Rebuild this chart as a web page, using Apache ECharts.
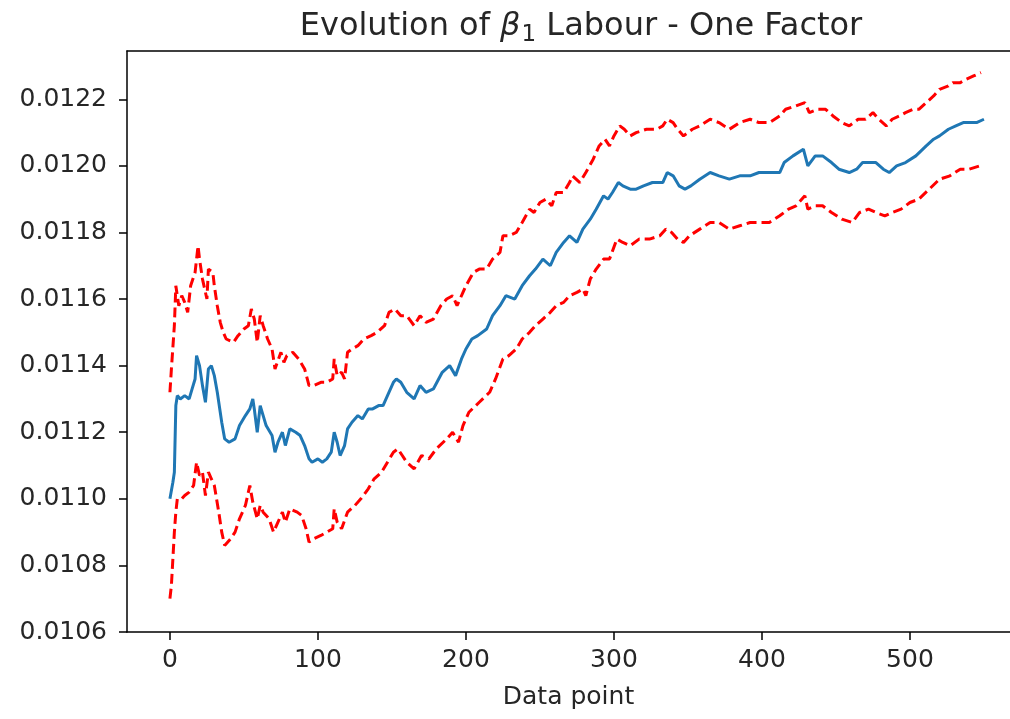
<!DOCTYPE html>
<html>
<head>
<meta charset="utf-8">
<script src="https://cdn.jsdelivr.net/npm/echarts@6/dist/echarts.min.js"></script>
<style>html,body{margin:0;padding:0;background:#fff}#c{width:1010px;height:719px}</style>
</head>
<body>
<div id="c"></div>
<script>
const xTicks = [0, 100, 200, 300, 400, 500];
const yTicks = [0.0106, 0.0108, 0.0110, 0.0112, 0.0114, 0.0116, 0.0118, 0.0120, 0.0122];

const meanLine = [[0,0.01100],[2,0.01105],[3,0.01108],[4,0.01128],[5,0.01131],[7,0.01130],[10,0.01131],[13,0.01130],[15,0.01133],[17,0.01136],[18,0.01143],[20,0.01140],[22,0.01134],[24,0.01129],[26,0.01139],[28,0.01140],[30,0.01137],[32,0.01132],[35,0.01123],[37,0.01118],[40,0.01117],[44,0.01118],[47,0.01122],[51,0.01125],[54,0.01127],[56,0.01130],[57,0.01127],[59,0.01120],[61,0.01128],[63,0.01125],[65,0.01122],[69,0.01119],[71,0.01114],[73,0.01117],[76,0.01120],[78,0.01116],[81,0.01121],[85,0.01120],[88,0.01119],[91,0.01116],[94,0.01112],[96,0.01111],[100,0.01112],[103,0.01111],[106,0.01112],[109,0.01114],[111,0.01120],[113,0.01117],[115,0.01113],[118,0.01116],[120,0.01121],[123,0.01123],[127,0.01125],[130,0.01124],[134,0.01127],[137,0.01127],[141,0.01128],[144,0.01128],[147,0.01131],[151,0.01135],[153,0.01136],[156,0.01135],[160,0.01132],[165,0.01130],[169,0.01134],[173,0.01132],[178,0.01133],[184,0.01138],[189,0.01140],[193,0.01137],[197,0.01142],[200,0.01145],[204,0.01148],[208,0.01149],[214,0.01151],[218,0.01155],[223,0.01158],[227,0.01161],[233,0.01160],[238,0.01164],[243,0.01167],[247,0.01169],[252,0.01172],[257,0.01170],[261,0.01174],[266,0.01177],[270,0.01179],[275,0.01177],[279,0.01181],[284,0.01184],[288,0.01187],[293,0.01191],[296,0.01190],[299,0.01192],[303,0.01195],[306,0.01194],[311,0.01193],[315,0.01193],[320,0.01194],[326,0.01195],[333,0.01195],[336,0.01198],[340,0.01197],[344,0.01194],[348,0.01193],[352,0.01194],[358,0.01196],[365,0.01198],[371,0.01197],[378,0.01196],[385,0.01197],[392,0.01197],[398,0.01198],[405,0.01198],[412,0.01198],[415,0.01201],[421,0.01203],[428,0.01205],[431,0.01200],[436,0.01203],[441,0.01203],[447,0.01201],[452,0.01199],[459,0.01198],[464,0.01199],[468,0.01201],[473,0.01201],[477,0.01201],[482,0.01199],[486,0.01198],[491,0.01200],[497,0.01201],[504,0.01203],[511,0.01206],[516,0.01208],[520,0.01209],[526,0.01211],[531,0.01212],[536,0.01213],[540,0.01213],[545,0.01213],[550,0.01214]];

const upperBand = [[0,0.01132],[1,0.01139],[3,0.01152],[4,0.01164],[6,0.01158],[8,0.01161],[10,0.01159],[12,0.01156],[14,0.01164],[17,0.01168],[19,0.01176],[20,0.01172],[22,0.01166],[25,0.01160],[26,0.01169],[29,0.01168],[30,0.01164],[32,0.01158],[34,0.01153],[36,0.01150],[38,0.01148],[43,0.01147],[46,0.01149],[50,0.01151],[53,0.01152],[55,0.01157],[57,0.01154],[59,0.01147],[61,0.01155],[63,0.01152],[66,0.01148],[69,0.01145],[71,0.01139],[75,0.01144],[77,0.01141],[79,0.01143],[83,0.01144],[87,0.01142],[91,0.01139],[94,0.01134],[97,0.01134],[102,0.01135],[106,0.01135],[110,0.01136],[111,0.01142],[113,0.01137],[116,0.01138],[118,0.01136],[120,0.01144],[123,0.01145],[127,0.01146],[131,0.01148],[136,0.01149],[140,0.01150],[145,0.01152],[148,0.01156],[152,0.01157],[156,0.01155],[160,0.01155],[165,0.01152],[169,0.01155],[173,0.01153],[178,0.01154],[183,0.01158],[187,0.01160],[191,0.01161],[194,0.01158],[198,0.01162],[200,0.01164],[205,0.01168],[209,0.01169],[214,0.01169],[218,0.01172],[223,0.01174],[225,0.01179],[229,0.01179],[234,0.01180],[238,0.01183],[243,0.01187],[246,0.01186],[250,0.01189],[254,0.01190],[258,0.01188],[261,0.01192],[266,0.01192],[270,0.01195],[272,0.01197],[277,0.01195],[281,0.01198],[286,0.01202],[290,0.01206],[294,0.01208],[297,0.01206],[300,0.01209],[304,0.01212],[307,0.01211],[311,0.01209],[315,0.01210],[322,0.01211],[329,0.01211],[333,0.01212],[336,0.01214],[340,0.01213],[343,0.01211],[347,0.01209],[350,0.01210],[353,0.01211],[358,0.01212],[365,0.01214],[371,0.01213],[378,0.01211],[385,0.01213],[392,0.01214],[398,0.01213],[405,0.01213],[412,0.01215],[416,0.01217],[423,0.01218],[429,0.01219],[432,0.01216],[438,0.01217],[443,0.01217],[448,0.01215],[454,0.01213],[459,0.01212],[465,0.01214],[470,0.01214],[475,0.01216],[479,0.01214],[484,0.01212],[488,0.01214],[493,0.01215],[497,0.01216],[502,0.01217],[506,0.01217],[511,0.01219],[516,0.01221],[520,0.01223],[526,0.01224],[529,0.01225],[534,0.01225],[538,0.01226],[543,0.01227],[548,0.01228]];

const lowerBand = [[0,0.01070],[1,0.01074],[2,0.01082],[3,0.01090],[4,0.01096],[5,0.01100],[8,0.01100],[10,0.01101],[13,0.01102],[16,0.01104],[18,0.01111],[20,0.01107],[22,0.01108],[24,0.01101],[26,0.01108],[28,0.01106],[30,0.01104],[33,0.01096],[35,0.01090],[37,0.01086],[41,0.01088],[44,0.01090],[47,0.01094],[51,0.01098],[54,0.01104],[56,0.01099],[59,0.01094],[61,0.01098],[63,0.01096],[67,0.01094],[70,0.01090],[73,0.01093],[76,0.01096],[78,0.01093],[81,0.01097],[86,0.01096],[89,0.01095],[92,0.01091],[94,0.01087],[97,0.01088],[102,0.01089],[106,0.01090],[110,0.01091],[111,0.01097],[113,0.01093],[116,0.01091],[120,0.01096],[125,0.01098],[129,0.01100],[134,0.01103],[138,0.01106],[143,0.01108],[147,0.01111],[151,0.01114],[154,0.01115],[157,0.01113],[160,0.01111],[165,0.01109],[170,0.01113],[175,0.01112],[180,0.01115],[187,0.01118],[191,0.01120],[195,0.01117],[198,0.01122],[202,0.01126],[209,0.01129],[216,0.01132],[220,0.01136],[225,0.01142],[229,0.01143],[234,0.01145],[238,0.01148],[243,0.01150],[247,0.01152],[252,0.01154],[257,0.01156],[261,0.01158],[266,0.01159],[270,0.01161],[275,0.01162],[279,0.01163],[281,0.01161],[284,0.01166],[288,0.01169],[293,0.01172],[297,0.01172],[302,0.01178],[306,0.01177],[311,0.01176],[317,0.01178],[324,0.01178],[331,0.01179],[335,0.01181],[339,0.01180],[343,0.01178],[347,0.01177],[351,0.01179],[358,0.01181],[365,0.01183],[371,0.01183],[378,0.01181],[385,0.01182],[392,0.01183],[398,0.01183],[405,0.01183],[412,0.01185],[418,0.01187],[423,0.01188],[429,0.01191],[431,0.01187],[436,0.01188],[441,0.01188],[447,0.01186],[454,0.01184],[461,0.01183],[466,0.01186],[472,0.01187],[477,0.01186],[483,0.01185],[488,0.01186],[494,0.01187],[500,0.01189],[506,0.01190],[513,0.01193],[520,0.01196],[527,0.01197],[534,0.01199],[540,0.01199],[547,0.01200]];

const FONT = '"DejaVu Sans", sans-serif';
const TXT = '#262626';
const chart = echarts.init(document.getElementById('c'), null, {renderer: 'canvas'});
const xMin = -29, xMax = 567.6;
const yMin = 0.0106, yMax = 0.012345;
chart.setOption({
  animation: false,
  backgroundColor: '#fff',
  title: {
    text: 'Evolution of {b|β}{s|1} Labour - One Factor',
    left: 576, textAlign: 'center', top: 2,
    textStyle: {
      fontFamily: FONT, fontSize: 32, fontWeight: 'normal', color: TXT, lineHeight: 40,
      rich: {
        b: {fontFamily: FONT, fontStyle: 'italic', fontSize: 32, color: TXT, lineHeight: 40},
        s: {fontFamily: FONT, fontSize: 23, color: TXT, lineHeight: 23, padding: [17, 0, 0, 1], verticalAlign: 'bottom'}
      }
    }
  },
  grid: {left: 127, top: 51, width: 883, height: 581, containLabel: false, show: false},
  xAxis: [{
    type: 'value', min: xMin, max: xMax, position: 'bottom',
    name: 'Data point', nameLocation: 'middle', nameGap: 53,
    nameTextStyle: {fontFamily: FONT, fontSize: 25, color: TXT},
    axisLine: {show: true, onZero: false, lineStyle: {color: '#000', width: 1.5}},
    axisTick: {show: true, inside: false, length: 8, customValues: xTicks, lineStyle: {color: '#000', width: 1.5}},
    axisLabel: {fontFamily: FONT, fontSize: 25, color: TXT, margin: 16, customValues: xTicks, formatter: v => String(v)},
    splitLine: {show: false}
  }, {
    type: 'value', min: xMin, max: xMax, position: 'top',
    axisLine: {show: true, onZero: false, lineStyle: {color: '#000', width: 1.5}},
    axisTick: {show: false}, axisLabel: {show: false}, splitLine: {show: false}
  }],
  yAxis: {
    type: 'value', min: yMin, max: yMax,
    axisLine: {show: true, onZero: false, lineStyle: {color: '#000', width: 1.5}},
    axisTick: {show: true, inside: false, length: 8, customValues: yTicks, lineStyle: {color: '#000', width: 1.5}},
    axisLabel: {fontFamily: FONT, fontSize: 25, color: TXT, margin: 20, customValues: yTicks, formatter: v => v.toFixed(4)},
    splitLine: {show: false}
  },
  series: [
    {type: 'line', data: upperBand, showSymbol: false, symbol: 'none', lineStyle: {color: '#ff0000', width: 3, type: [10, 5]}, z: 2},
    {type: 'line', data: lowerBand, showSymbol: false, symbol: 'none', lineStyle: {color: '#ff0000', width: 3, type: [10, 5]}, z: 2},
    {type: 'line', data: meanLine, showSymbol: false, symbol: 'none', lineStyle: {color: '#1f77b4', width: 3}, z: 3}
  ]
});
</script>
</body>
</html>
